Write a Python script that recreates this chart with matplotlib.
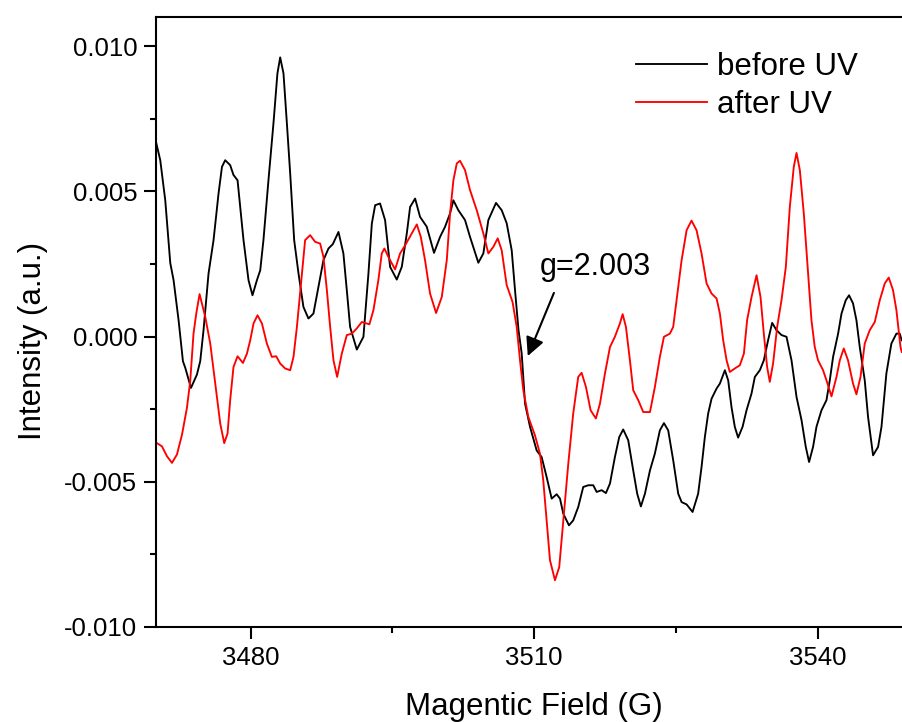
import matplotlib
matplotlib.use('Agg')
import matplotlib.pyplot as plt
from matplotlib.ticker import MultipleLocator, FormatStrFormatter

plt.rcParams['font.family'] = ['Liberation Sans', 'DejaVu Sans']
plt.rcParams['axes.unicode_minus'] = False

# before UV (black): field in G, intensity in units of 1e-3 a.u.
field_before = [3470.03, 3470.45, 3470.98, 3471.51, 3471.86, 3472.39, 3472.85, 3473.10, 3473.70, 3474.33,
                3474.68, 3475.03, 3475.56, 3476.09, 3476.62, 3476.98, 3477.32, 3477.85, 3478.20, 3478.63,
                3478.91, 3479.26, 3479.79, 3480.21, 3480.68, 3481.03, 3481.37, 3481.90, 3482.43, 3482.85,
                3483.14, 3483.49, 3483.85, 3484.20, 3484.62, 3485.08, 3485.60, 3486.13, 3486.66, 3487.19,
                3487.72, 3488.25, 3488.71, 3489.31, 3489.83, 3490.19, 3490.54, 3491.25, 3491.95, 3492.48,
                3492.84, 3493.19, 3493.71, 3494.24, 3494.77, 3495.48, 3496.01, 3496.54, 3496.89, 3497.42,
                3497.94, 3498.65, 3499.42, 3500.06, 3500.59, 3501.12, 3501.47, 3501.99, 3502.70, 3503.23,
                3504.11, 3504.64, 3505.17, 3505.98, 3506.58, 3507.11, 3507.64, 3507.99, 3508.36, 3508.70,
                3509.05, 3509.58, 3510.28, 3510.81, 3511.34, 3511.87, 3512.40, 3512.75, 3513.10, 3513.70,
                3514.15, 3514.68, 3515.21, 3515.74, 3516.27, 3516.63, 3517.16, 3517.61, 3518.04, 3518.56,
                3519.02, 3519.44, 3519.97, 3520.50, 3520.92, 3521.31, 3521.74, 3522.27, 3522.79, 3523.32,
                3523.75, 3524.20, 3524.73, 3525.26, 3525.62, 3526.15, 3526.78, 3527.37, 3527.73, 3528.08,
                3528.43, 3528.79, 3529.32, 3529.67, 3530.20, 3530.55, 3530.90, 3531.25, 3531.60, 3532.07,
                3532.49, 3533.02, 3533.37, 3533.90, 3534.32, 3534.77, 3535.20, 3535.66, 3536.19, 3536.72,
                3537.25, 3537.78, 3538.31, 3538.76, 3539.11, 3539.53, 3539.89, 3540.42, 3540.95, 3541.30,
                3541.65, 3542.18, 3542.54, 3542.99, 3543.34, 3543.76, 3544.12, 3544.47, 3545.00, 3545.35,
                3545.88, 3546.41, 3546.77, 3547.29, 3547.82, 3548.35, 3548.70, 3548.91]
int_before = [6.66, 6.07, 4.69, 2.53, 1.94, 0.56, -0.85, -1.08, -1.77, -1.31,
              -0.85, 0.22, 2.17, 3.32, 4.93, 5.84, 6.07, 5.90, 5.56, 5.38,
              4.46, 3.32, 1.94, 1.42, 1.94, 2.28, 3.32, 5.38, 7.34, 9.06,
              9.61, 9.06, 7.34, 5.61, 3.32, 2.17, 1.02, 0.62, 0.79, 1.71,
              2.63, 3.03, 3.18, 3.60, 2.86, 1.60, 0.33, -0.45, -0.01, 2.17,
              3.89, 4.52, 4.58, 4.01, 2.40, 1.96, 2.40, 3.55, 4.46, 4.75,
              4.12, 3.78, 2.88, 3.43, 3.78, 4.24, 4.69, 4.35, 4.01, 3.43,
              2.54, 2.86, 4.01, 4.60, 4.35, 3.90, 2.97, 1.60, 0.22, -0.59,
              -2.31, -3.11, -3.92, -4.15, -4.84, -5.58, -5.43, -5.58, -6.10, -6.50,
              -6.33, -5.87, -5.18, -5.12, -5.12, -5.35, -5.29, -5.39, -5.06, -4.15,
              -3.46, -3.20, -3.57, -4.61, -5.41, -5.85, -5.41, -4.61, -4.03, -3.23,
              -2.98, -3.23, -4.26, -5.41, -5.70, -5.78, -6.04, -5.41, -4.49, -3.46,
              -2.65, -2.14, -1.79, -1.62, -1.16, -1.51, -2.43, -3.11, -3.48, -3.11,
              -2.54, -1.96, -1.39, -1.16, -0.82, -0.13, 0.47, 0.22, 0.05, -0.01,
              -0.82, -2.08, -2.88, -3.80, -4.32, -3.80, -3.11, -2.54, -2.19, -1.51,
              -0.70, 0.10, 0.79, 1.25, 1.42, 1.14, 0.56, -0.36, -1.51, -2.77,
              -4.09, -3.80, -3.11, -1.27, -0.24, 0.10, 0.10, -0.13]

# after UV (red)
field_after = [3470.10, 3470.63, 3471.16, 3471.69, 3472.22, 3472.75, 3473.27, 3473.62, 3473.97, 3474.26,
               3474.61, 3475.21, 3475.74, 3476.27, 3476.80, 3477.22, 3477.57, 3477.85, 3478.20, 3478.63,
               3479.20, 3479.62, 3479.97, 3480.32, 3480.74, 3481.21, 3481.73, 3482.26, 3482.72, 3483.14,
               3483.67, 3484.20, 3484.55, 3484.91, 3485.44, 3485.78, 3486.31, 3486.84, 3487.37, 3487.72,
               3488.08, 3488.43, 3488.78, 3489.17, 3489.66, 3490.19, 3490.72, 3491.25, 3491.78, 3492.58,
               3493.01, 3493.53, 3493.89, 3494.17, 3494.59, 3495.30, 3495.83, 3496.36, 3497.07, 3497.60,
               3498.02, 3498.47, 3499.00, 3499.64, 3500.24, 3500.77, 3501.12, 3501.47, 3501.83, 3502.17,
               3502.70, 3503.23, 3503.94, 3504.64, 3505.17, 3505.70, 3506.16, 3506.58, 3507.11, 3507.73,
               3508.17, 3508.52, 3508.87, 3509.40, 3510.10, 3510.63, 3510.98, 3511.34, 3511.69, 3512.22,
               3512.67, 3513.10, 3513.63, 3514.15, 3514.68, 3515.04, 3515.50, 3515.99, 3516.55, 3516.98,
               3517.51, 3518.04, 3518.56, 3519.09, 3519.38, 3519.73, 3520.15, 3520.50, 3521.03, 3521.56,
               3522.27, 3522.79, 3523.32, 3523.75, 3524.38, 3524.73, 3525.09, 3525.62, 3526.15, 3526.67,
               3527.20, 3527.73, 3528.26, 3528.79, 3529.32, 3529.67, 3530.02, 3530.38, 3530.72, 3531.25,
               3531.78, 3532.21, 3532.55, 3533.02, 3533.55, 3533.97, 3534.32, 3534.67, 3534.95, 3535.30,
               3535.73, 3536.19, 3536.65, 3537.07, 3537.49, 3537.78, 3538.13, 3538.55, 3539.00, 3539.36,
               3539.71, 3540.06, 3540.59, 3540.95, 3541.48, 3542.01, 3542.36, 3542.78, 3543.23, 3543.76,
               3544.12, 3544.55, 3545.00, 3545.53, 3546.06, 3546.59, 3547.12, 3547.54, 3547.99, 3548.35,
               3548.78, 3548.91]
int_after = [-3.67, -3.78, -4.12, -4.35, -4.06, -3.38, -2.46, -1.54, 0.10, 0.79,
             1.46, 0.68, -0.24, -1.62, -3.00, -3.67, -3.34, -2.19, -1.05, -0.68,
             -0.91, -0.59, -0.13, 0.45, 0.73, 0.45, -0.24, -0.70, -0.68, -0.93,
             -1.10, -1.16, -0.70, 0.33, 2.17, 3.32, 3.49, 3.26, 3.20, 2.74,
             1.60, 0.33, -0.82, -1.39, -0.59, 0.05, 0.10, 0.28, 0.50, 0.42,
             0.91, 1.94, 2.86, 3.03, 2.74, 2.31, 2.86, 3.14, 3.55, 3.86,
             3.43, 2.63, 1.48, 0.81, 1.36, 2.63, 4.24, 5.38, 5.96, 6.05,
             5.73, 5.04, 4.35, 3.55, 2.86, 3.09, 3.38, 2.97, 1.77, 1.19,
             0.33, -0.82, -1.85, -2.77, -3.40, -4.03, -4.95, -6.33, -7.70, -8.39,
             -7.94, -6.33, -4.37, -2.65, -1.39, -1.25, -1.74, -2.54, -2.82, -2.31,
             -1.27, -0.36, -0.01, 0.45, 0.77, 0.33, -0.82, -1.85, -2.19, -2.60,
             -2.60, -1.74, -0.70, -0.01, 0.10, 0.33, 1.25, 2.63, 3.66, 3.99,
             3.66, 2.86, 1.83, 1.48, 1.31, 0.79, -0.13, -0.82, -1.22, -1.10,
             -0.99, -0.59, 0.56, 1.36, 2.11, 1.36, 0.10, -1.05, -1.56, -0.93,
             0.33, 1.25, 2.40, 4.46, 5.84, 6.32, 5.73, 4.24, 2.17, 0.56,
             -0.36, -0.82, -1.16, -1.51, -2.06, -1.39, -0.82, -0.41, -0.82, -1.62,
             -1.99, -1.39, -0.24, 0.22, 0.50, 1.25, 1.83, 2.03, 1.60, 0.91,
             -0.36, -0.53]

fig = plt.figure(figsize=(9.02, 7.22), dpi=100)
# the original frame runs a little past the right edge of the picture
ax = fig.add_axes([156 / 902, 95 / 722, 756 / 902, 610 / 722])

ax.plot(field_before, [v * 1e-3 for v in int_before], color='black', lw=1.35, label='before UV')
ax.plot(field_after, [v * 1e-3 for v in int_after], color='red', lw=1.35, label='after UV')

ax.set_xlim(3470, 3550)
ax.set_ylim(-0.010, 0.011)
ax.xaxis.set_major_locator(MultipleLocator(30))
ax.xaxis.set_minor_locator(MultipleLocator(15))
ax.yaxis.set_major_locator(MultipleLocator(0.005))
ax.yaxis.set_minor_locator(MultipleLocator(0.0025))
ax.yaxis.set_major_formatter(FormatStrFormatter('%.3f'))

for s in ax.spines.values():
    s.set_linewidth(1.5)
ax.tick_params(which='major', direction='out', length=8.5, width=1.5, labelsize=18.5, pad=5)
ax.tick_params(which='minor', direction='out', length=4.5, width=1.5)

ax.set_xlabel('Magentic Field (G)', fontsize=22.5, labelpad=16)
ax.set_ylabel('Intensity (a.u.)', fontsize=22.5)
ax.yaxis.set_label_coords(-0.143, 0.469)

ax.legend(loc='upper left', bbox_to_anchor=(0.6345, 0.942), frameon=False, fontsize=22.5,
          handlelength=2.29, handletextpad=0.3, labelspacing=0.25, borderpad=0, borderaxespad=0)

ax.annotate('', xy=(3509.23, -0.00076), xytext=(3512.22, 0.00159),
            arrowprops=dict(arrowstyle='-|>', mutation_scale=28, color='black', lw=1.5))
ax.text(3510.56, 0.00211, 'g=2.003', fontsize=22, va='baseline', ha='left')

fig.savefig('out.png', dpi=100)
